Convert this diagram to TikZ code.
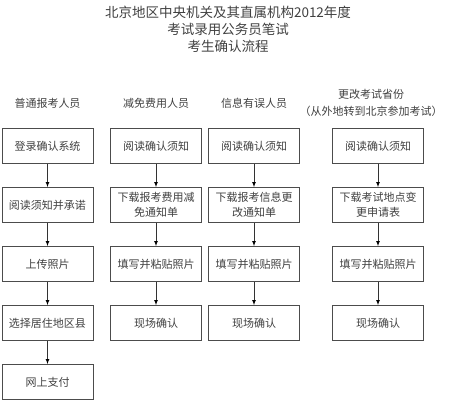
\documentclass[tikz,border=0pt]{standalone}
\usepackage{fontspec}
\newfontfamily\cjk{Noto Sans CJK SC}
\usetikzlibrary{positioning}

\begin{document}
\begin{tikzpicture}[x=1pt,y=-1pt]

        % Setup the styles for the boxes and arrows
        \tikzset{box style/.style={draw=black!70,
                                   line width=0.9pt,
                                   minimum width=91pt,
                                   minimum height=35pt,
                                   inner sep=1pt,
                                   align=center,
                                   text=black!75,
                                   font=\cjk\fontsize{11}{15}\selectfont},
                 head style/.style={align=center,
                                    text=black!75,
                                    font=\cjk\fontsize{11}{17}\selectfont}}

        \useasboundingbox (0,0) rectangle (450,400);

        % Title
        \node[align=center, text=black!75, font=\cjk\fontsize{13.5}{17}\selectfont]
             at (228, 29) (title) {北京地区中央机关及其直属机构2012年度\\考试录用公务员笔试\\考生确认流程};

        % Column heads
        \node[head style] at (47.5, 103) (reghead) {普通报考人员};
        \node[head style] at (156, 103)  (redhead) {减免费用人员};
        \node[head style] at (254, 103)  (errhead) {信息有误人员};
        \node[head style] at (371, 103)  (movehead) {更改考试省份\\（从外地转到北京参加考试）};

        % Draw the boxes
        \node[box style] at (47.5, 146) (reg1) {登录确认系统};
        \node[box style] at (47.5, 205) (reg2) {阅读须知并承诺};
        \node[box style] at (47.5, 264) (reg3) {上传照片};
        \node[box style] at (47.5, 323) (reg4) {选择居住地区县};
        \node[box style] at (47.5, 382) (reg5) {网上支付};

        \node[box style] at (156, 146) (red1) {阅读确认须知};
        \node[box style] at (156, 205) (red2) {下载报考费用减\\免通知单};
        \node[box style] at (156, 264) (red3) {填写并粘贴照片};
        \node[box style] at (156, 323) (red4) {现场确认};

        \node[box style] at (254, 146) (err1) {阅读确认须知};
        \node[box style] at (254, 205) (err2) {下载报考信息更\\改通知单};
        \node[box style] at (254, 264) (err3) {填写并粘贴照片};
        \node[box style] at (254, 323) (err4) {现场确认};

        \node[box style] at (378, 146) (move1) {阅读确认须知};
        \node[box style] at (378, 205) (move2) {下载考试地点变\\更申请表};
        \node[box style] at (378, 264) (move3) {填写并粘贴照片};
        \node[box style] at (378, 323) (move4) {现场确认};

        % Connect the boxes with arrows
        \draw[-latex,
              line width=0.7pt,
              draw=black!80]
            (reg1) edge (reg2)
            (reg2) edge (reg3)
            (reg3) edge (reg4)
            (reg4) edge (reg5)
            (red1) edge (red2)
            (red2) edge (red3)
            (red3) edge (red4)
            (err1) edge (err2)
            (err2) edge (err3)
            (err3) edge (err4)
            (move1) edge (move2)
            (move2) edge (move3)
            (move3) edge (move4);

\end{tikzpicture}
\end{document}
